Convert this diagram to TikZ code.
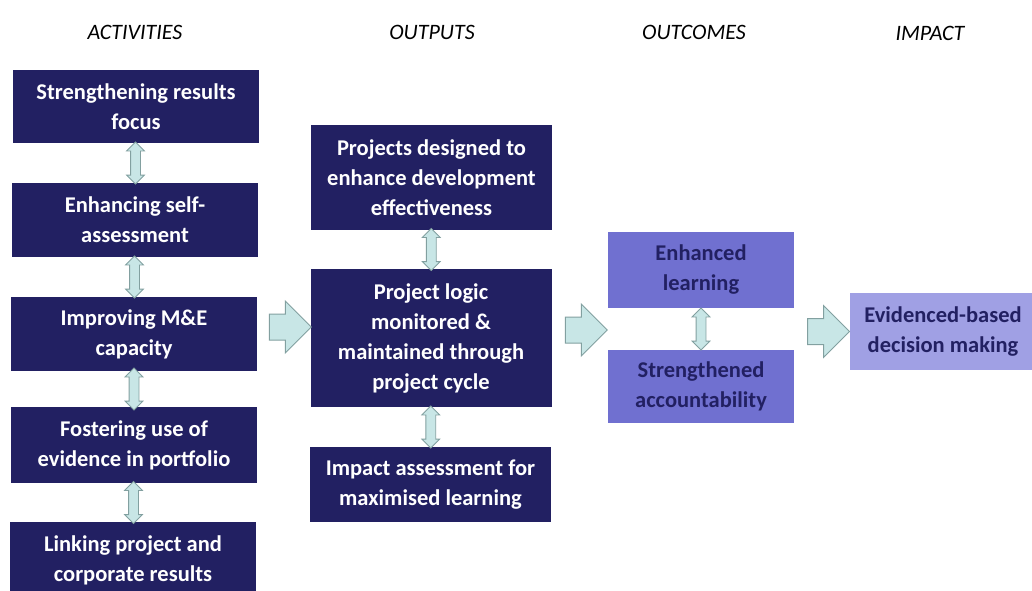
\documentclass[tikz,border=0pt]{standalone}
\usepackage{fontspec}
\setmainfont{Carlito}
\usetikzlibrary{shapes.arrows}
\definecolor{navybox}{RGB}{34,32,98}
\definecolor{outbox}{RGB}{112,112,208}
\definecolor{impbox}{RGB}{160,160,228}
\definecolor{arrowfill}{RGB}{200,230,230}
\definecolor{arrowline}{RGB}{130,160,160}

\begin{document}
\begin{tikzpicture}[x=1pt, y=-1pt,
    heading/.style={font=\itshape\fontsize{22}{26}\selectfont},
    box/.style={fill=navybox, text=white, align=center, inner sep=0pt,
        font=\bfseries\fontsize{22.5}{30}\selectfont},
    actbox/.style={box, minimum width=246pt},
    outbox/.style={box, minimum width=241pt},
    ocbox/.style={box, fill=outbox, text=navybox, minimum width=186pt},
    impbox/.style={box, fill=impbox, text=navybox, minimum width=186pt},
    updown/.style={double arrow, rotate=90, draw=arrowline, fill=arrowfill,
        line width=0.8pt, minimum height=42pt, inner sep=4.5pt,
        double arrow head extend=4pt},
    fatarrow/.style={single arrow, draw=arrowline, fill=arrowfill,
        line width=1pt, minimum height=42pt, inner sep=12.5pt,
        single arrow head extend=13pt}]
\useasboundingbox (0,0) rectangle (1032,590);

\node[heading] (hact) at (135,32) {ACTIVITIES};
\node[heading] (hout) at (432,32) {OUTPUTS};
\node[heading] (hoc) at (694,32) {OUTCOMES};
\node[heading] (himp) at (930,33) {IMPACT};

% activities
\node[actbox, minimum height=73pt] (act1) at (136,106.5) {Strengthening results\\focus};
\node[actbox, minimum height=74pt] (act2) at (135,220) {Enhancing self-\\assessment};
\node[actbox, minimum height=74pt] (act3) at (134,334) {Improving M\&E\\capacity};
\node[actbox, minimum height=76pt] (act4) at (134,445) {Fostering use of\\evidence in portfolio};
\node[actbox, minimum height=76pt] (act5) at (133,560) {Linking project and\\corporate results};

% outputs
\node[outbox, minimum height=105pt] (out1) at (431.5,177.5) {Projects designed to\\enhance development\\effectiveness};
\node[outbox, minimum height=138pt] (out2) at (431,338) {Project logic\\monitored \&\\maintained through\\project cycle};
\node[outbox, minimum height=75pt] (out3) at (430.5,484.5) {Impact assessment for\\maximised learning};

% outcomes and impact
\node[ocbox, minimum height=76pt] (oc1) at (701,270) {Enhanced\\learning};
\node[ocbox, minimum height=73pt] (oc2) at (701,386.5) {Strengthened\\accountability};
\node[impbox, minimum height=77pt] (imp) at (943,331.5) {Evidenced-based\\decision making};

\path (act1.south) -- node[updown] {} (act2.north);
\path (act2.south) -- node[updown] {} (act3.north);
\path (act3.south) -- node[updown] {} (act4.north);
\path (act4.south) -- node[updown] {} (act5.north);
\path (out1.south) -- node[updown] {} (out2.north);
\path (out2.south) -- node[updown] {} (out3.north);
\path (oc1.south) -- node[updown] {} (oc2.north);

\path (act3.east) -- node[fatarrow, yshift=9pt] {} (out2.west);
\path (out2.east) -- node[fatarrow, yshift=8pt] {} (out2.east -| oc1.west);
\path (imp.west -| oc1.east) -- node[fatarrow] {} (imp.west);
\end{tikzpicture}
\end{document}
